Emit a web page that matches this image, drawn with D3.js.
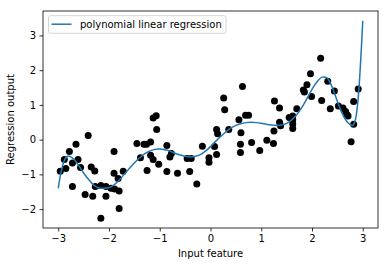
<!DOCTYPE html>
<html>
<head>
<meta charset="utf-8">
<script src="https://cdn.jsdelivr.net/npm/d3@7"></script>
<style>
  body { margin: 0; background: #fff; }
  text { font-family: "DejaVu Sans", sans-serif; font-size: 10px; fill: #000; }
</style>
</head>
<body>
<div class="chart"></div>
<script>
/* Data
============================================= */
const pointX = [
  -2.96, -2.88, -2.85, -2.78, -2.72, -2.65, -2.61, -2.56, -2.41, -2.72,
  -2.47, -2.35, -2.28, -2.32, -2.27, -2.16, -2.06, -1.96, -1.89, -1.80,
  -2.06, -1.90, -1.90, -1.82, -1.72, -1.80, -2.16, -1.45, -1.38, -1.31,
  -1.26, -1.18, -1.25, -1.18, -1.13, -1.13, -1.07, -1.06, -1.02, -0.86,
  -0.77, -0.80, -0.86, -0.65, -0.46, -0.38, -0.41, -0.27, -0.16, -0.03,
  -0.03, 0.08, 0.12, 0.12, 0.14, 0.26, 0.28, 0.36, 0.56, 0.60,
  0.59, 0.59, 0.63, 0.69, 0.75, 0.81, 0.97, 1.11, 1.24, 1.25,
  1.26, 1.36, 1.36, 1.38, 1.55, 1.62, 1.62, 1.62, 1.62, 1.70,
  1.83, 1.85, 1.90, 1.97, 1.99, 2.17, 2.19, 2.31, 2.36, 2.44,
  2.52, 2.61, 2.66, 2.69, 2.71, 2.82, 2.82, 2.77, 2.91
];
const pointY = [
  -0.91, -0.57, -0.83, -0.34, -0.67, -0.13, -0.57, -0.80, 0.12, -1.35,
  -1.58, -0.79, -0.90, -1.63, -1.35, -1.32, -1.35, -1.40, -1.42, -1.48,
  -1.63, -0.34, -0.97, -1.12, -0.91, -1.98, -2.26, -0.11, -0.52, -0.13,
  -0.13, -0.07, -0.89, -0.45, -0.57, 0.62, 0.69, 0.29, -0.71, -0.17,
  -0.40, -0.50, -0.92, -0.97, -0.54, -0.54, -0.92, -1.28, -0.19, -0.52,
  -0.65, -0.20, -0.43, 0.29, 0.17, 1.20, 0.86, 0.29, 0.57, 0.20,
  -0.13, -0.37, 1.53, 0.70, 0.70, -0.08, -0.31, -0.02, -0.11, 0.25,
  1.11, 0.91, 0.50, 0.40, 0.64, 0.68, 0.57, 0.45, 0.32, 0.89,
  1.43, 1.37, 1.58, 1.90, 1.24, 2.34, 1.13, 1.68, 0.89, 1.40,
  0.97, 0.91, 0.81, 0.72, 0.68, 1.10, 0.44, -0.06, 1.46
];

// fitted curve
const lineX = [
  -3.0, -2.95, -2.9, -2.85, -2.8, -2.7, -2.6, -2.5, -2.4, -2.3,
  -2.2, -2.1, -2.0, -1.9, -1.8, -1.7, -1.6, -1.5, -1.4, -1.3,
  -1.2, -1.1, -1.0, -0.9, -0.8, -0.7, -0.6, -0.5, -0.4, -0.3,
  -0.2, -0.1, 0.0, 0.1, 0.2, 0.3, 0.4, 0.5, 0.6, 0.7,
  0.8, 0.9, 1.0, 1.1, 1.2, 1.3, 1.4, 1.5, 1.6, 1.7,
  1.8, 1.9, 2.0, 2.1, 2.2, 2.3, 2.4, 2.5, 2.6, 2.7,
  2.8, 2.85, 2.9, 2.95, 3.0
];
const lineY = [
  -1.40, -0.98, -0.68, -0.52, -0.47, -0.55, -0.74, -0.96, -1.15, -1.31,
  -1.39, -1.40, -1.38, -1.30, -1.17, -1.00, -0.83, -0.67, -0.53, -0.41,
  -0.33, -0.28, -0.27, -0.29, -0.33, -0.39, -0.44, -0.48, -0.50, -0.48,
  -0.43, -0.33, -0.20, -0.05, 0.09, 0.22, 0.33, 0.41, 0.46, 0.49,
  0.50, 0.49, 0.47, 0.44, 0.42, 0.41, 0.42, 0.47, 0.57, 0.72,
  0.93, 1.18, 1.45, 1.67, 1.80, 1.77, 1.50, 1.10, 0.74, 0.50,
  0.41, 0.55, 1.05, 2.05, 3.42
];

const xTicks = [-3, -2, -1, 0, 1, 2, 3];
const yTicks = [-2, -1, 0, 1, 2, 3];

const legendLabel = "polynomial linear regression";
const xLabel = "Input feature";
const yLabel = "Regression output";

/* Layout
============================================= */
const SVG_WIDTH = 388;
const SVG_HEIGHT = 266;
const margin = { top: 11, right: 10, bottom: 38, left: 43 };
const width = SVG_WIDTH - margin.left - margin.right;
const height = SVG_HEIGHT - margin.top - margin.bottom;

var svg = d3.select(".chart")
    .append("svg")
    .attr("width", SVG_WIDTH)
    .attr("height", SVG_HEIGHT);

var chart = svg.append("g")
    .attr("transform", `translate(${margin.left}, ${margin.top})`);

// matplotlib style 5% padding
var xMin = d3.min(lineX), xMax = d3.max(lineX);
var xPad = (xMax - xMin) * 0.05;
var yMin = Math.min(d3.min(pointY), d3.min(lineY));
var yMax = Math.max(d3.max(pointY), d3.max(lineY));
var yPad = (yMax - yMin) * 0.05;

var xScale = d3.scaleLinear().domain([xMin - xPad, xMax + xPad]).range([0, width]);
var yScale = d3.scaleLinear().domain([yMin - yPad, yMax + yPad]).range([height, 0]);

var fmt = d => d < 0 ? "\u2212" + Math.abs(d) : String(d);

// axes
var xAxis = chart.append("g")
    .attr("transform", `translate(0, ${height})`)
    .call(d3.axisBottom(xScale).tickValues(xTicks).tickSize(3.5).tickPadding(3.5).tickFormat(fmt));

var yAxis = chart.append("g")
    .call(d3.axisLeft(yScale).tickValues(yTicks).tickSize(3.5).tickPadding(3.5).tickFormat(fmt));

chart.selectAll(".domain").remove();
chart.selectAll(".tick line").attr("stroke", "#000").attr("stroke-width", 0.8);
chart.selectAll(".tick text")
    .attr("fill", "#000")
    .style("font-family", "DejaVu Sans, sans-serif")
    .style("font-size", "10px");

// data points
var plotGroup = chart.append("g");
plotGroup.selectAll("circle")
    .data(pointX.map((x, i) => ({ x: x, y: pointY[i] })))
    .enter()
    .append("circle")
    .attr("cx", d => xScale(d.x))
    .attr("cy", d => yScale(d.y))
    .attr("r", 3.5)
    .attr("fill", "#000");

// regression line
var line = d3.line()
    .x(d => xScale(d.x))
    .y(d => yScale(d.y))
    .curve(d3.curveCatmullRom.alpha(0.5));

plotGroup.append("path")
    .datum(lineX.map((x, i) => ({ x: x, y: lineY[i] })))
    .attr("d", line)
    .attr("fill", "none")
    .attr("stroke", "#1f77b4")
    .attr("stroke-width", 1.5);

// frame
chart.append("rect")
    .attr("width", width)
    .attr("height", height)
    .attr("fill", "none")
    .attr("stroke", "#000")
    .attr("stroke-width", 0.8);

// legend
var legend = chart.append("g").attr("transform", "translate(5.5, 4.7)");
legend.append("rect")
    .attr("width", 177.5)
    .attr("height", 17.6)
    .attr("rx", 2)
    .attr("fill", "#fff")
    .attr("fill-opacity", 0.8)
    .attr("stroke", "#ccc")
    .attr("stroke-width", 0.8);
legend.append("line")
    .attr("x1", 3).attr("x2", 23)
    .attr("y1", 8.5).attr("y2", 8.5)
    .attr("stroke", "#1f77b4")
    .attr("stroke-width", 1.5);
legend.append("text")
    .attr("x", 31.5)
    .attr("y", 12.3)
    .text(legendLabel);

// axis labels
chart.append("text")
    .attr("x", width / 2)
    .attr("y", height + 28.5)
    .attr("text-anchor", "middle")
    .text(xLabel);

chart.append("text")
    .attr("transform", `translate(${-29.5}, ${height / 2}) rotate(-90)`)
    .attr("text-anchor", "middle")
    .text(yLabel);
</script>
</body>
</html>
